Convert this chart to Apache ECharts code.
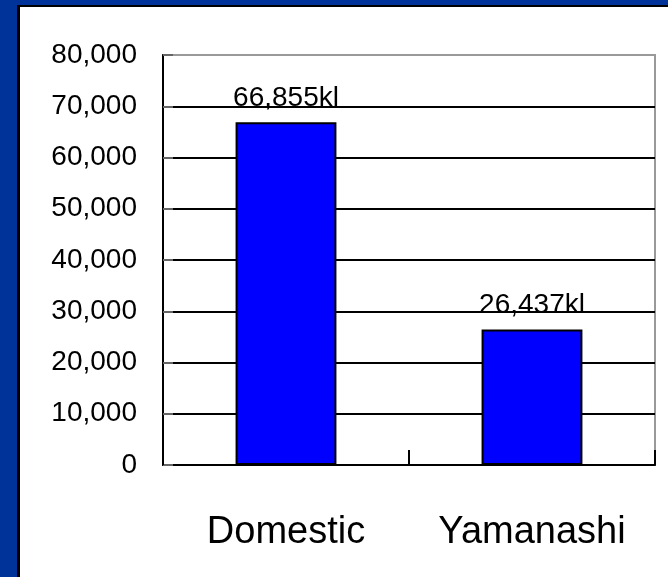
<!DOCTYPE html>
<html>
<head>
<meta charset="utf-8">
<script src="https://cdn.jsdelivr.net/npm/echarts@6/dist/echarts.min.js"></script>
<style>
  html, body { margin: 0; padding: 0; }
  body { width: 668px; height: 577px; background: #00339a; position: relative; overflow: hidden; }
  #panel { position: absolute; left: 17px; top: 5px; width: 700px; height: 620px; background: #fff;
           border-left: 3px solid #000; border-top: 2px solid #000; }
  #main { position: absolute; left: 0; top: 0; width: 668px; height: 577px; }
</style>
</head>
<body>
<div id="panel"></div>
<div id="main"></div>
<script>
// 数据
var categories = ["Domestic", "Yamanashi"];
var volumes = [66855, 26437];
var yTicks = [0, 10000, 20000, 30000, 40000, 50000, 60000, 70000, 80000];

var fontName = "Liberation Sans, Arial, sans-serif";

function fmt(v) {
  return String(v).replace(/\B(?=(\d{3})+(?!\d))/g, ",");
}

var chart = echarts.init(document.getElementById("main"));
chart.setOption({
  backgroundColor: "transparent",
  animation: false,
  grid: {
    left: 163,
    right: 13,
    top: 55,
    bottom: 112,
    show: true,
    borderColor: "#999",
    borderWidth: 2,
    backgroundColor: "transparent",
  },
  xAxis: {
    type: "category",
    data: categories,
    axisLine: { lineStyle: { color: "#000", width: 2 } },
    axisTick: { show: true, inside: true, length: 15, lineStyle: { color: "#000", width: 2 } },
    axisLabel: { color: "#000", fontFamily: fontName, fontSize: 38, margin: 49 },
    splitLine: { show: false },
  },
  yAxis: {
    type: "value",
    min: yTicks[0],
    max: yTicks[yTicks.length - 1],
    interval: yTicks[1] - yTicks[0],
    axisLine: { show: true, lineStyle: { color: "#000", width: 2 } },
    axisTick: { show: true, inside: true, length: 10, lineStyle: { color: "#666", width: 2 } },
    axisLabel: {
      color: "#000",
      fontFamily: fontName,
      fontSize: 28,
      margin: 26,
      formatter: function (v) { return fmt(v); },
    },
    splitLine: { show: true, showMaxLine: false, lineStyle: { color: "#000", width: 2 } },
  },
  series: [
    {
      type: "bar",
      data: volumes,
      barWidth: "41%",
      itemStyle: { color: "#0000ff", borderColor: "#000", borderWidth: 2 },
      label: {
        show: true,
        position: "top",
        distance: 10,
        color: "#000",
        fontFamily: fontName,
        fontSize: 28,
        formatter: function (p) { return fmt(p.value) + "kl"; },
      },
    },
  ],
});
</script>
</body>
</html>
